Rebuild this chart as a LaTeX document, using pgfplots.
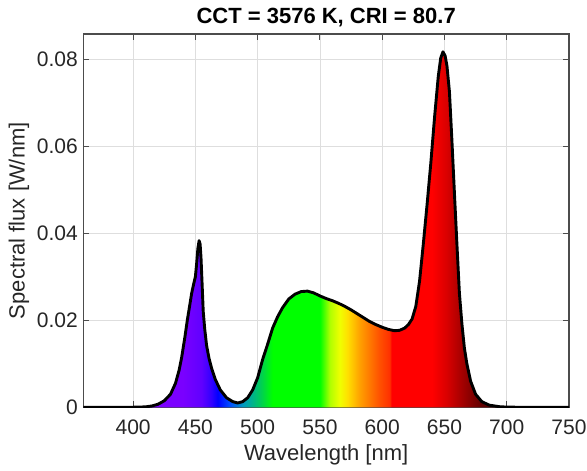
\documentclass[border=0pt]{standalone}
\usepackage{pgfplots}
\pgfplotsset{compat=1.18}
\usepackage{pgfplotstable}
\usepackage{fontspec}
\setmainfont{Liberation Sans}

\definecolor{c360}{RGB}{128,0,255}
\definecolor{c440}{RGB}{122,0,255}
\definecolor{c455}{RGB}{96,0,255}
\definecolor{c463}{RGB}{48,0,255}
\definecolor{c468}{RGB}{0,0,255}
\definecolor{c478}{RGB}{0,80,255}
\definecolor{c488}{RGB}{0,152,192}
\definecolor{c495}{RGB}{0,176,144}
\definecolor{c503}{RGB}{0,208,80}
\definecolor{c512}{RGB}{0,255,0}
\definecolor{c550}{RGB}{0,255,0}
\definecolor{c558}{RGB}{176,255,0}
\definecolor{c566}{RGB}{240,255,0}
\definecolor{c572}{RGB}{255,224,0}
\definecolor{c582}{RGB}{255,160,0}
\definecolor{c598}{RGB}{255,80,0}
\definecolor{c606}{RGB}{255,48,0}
\definecolor{c607}{RGB}{255,0,0}
\definecolor{c640}{RGB}{255,0,0}
\definecolor{c652}{RGB}{216,0,0}
\definecolor{c665}{RGB}{160,0,0}
\definecolor{c680}{RGB}{96,0,0}
\definecolor{c700}{RGB}{48,0,0}
\definecolor{c750}{RGB}{0,0,0}

\pgfdeclarehorizontalshading{spectrum}{100bp}{color(0bp)=(c360); color(25bp)=(c360);
 color(35.256bp)=(c440); color(37.179bp)=(c455); color(38.205bp)=(c463); color(38.846bp)=(c468);
 color(40.128bp)=(c478); color(41.410bp)=(c488); color(42.308bp)=(c495); color(43.333bp)=(c503);
 color(44.487bp)=(c512); color(49.359bp)=(c550); color(50.385bp)=(c558); color(51.410bp)=(c566);
 color(52.179bp)=(c572); color(53.462bp)=(c582); color(55.513bp)=(c598); color(56.538bp)=(c606);
 color(56.731bp)=(c607); color(60.897bp)=(c640); color(62.436bp)=(c652); color(64.103bp)=(c665);
 color(66.026bp)=(c680); color(68.590bp)=(c700); color(75bp)=(c750); color(100bp)=(c750)}

\pgfplotstableread{
wl flux
360 0
380 0
400 0.00002
410 0.0001
415 0.0003
420 0.0007
425 0.0015
430 0.0030
434 0.0055
437 0.0086
439 0.0115
441.5 0.0160
443.5 0.0200
445.5 0.0235
447 0.0262
448.5 0.0282
450 0.0300
451 0.0330
452 0.0365
453 0.0383
453.8 0.0375
454.5 0.0345
455.3 0.0290
456.3 0.0220
457.5 0.0180
459 0.0142
461 0.0112
463 0.0090
466 0.0064
470 0.0040
475 0.0022
480 0.0013
484 0.0010
488 0.0013
492 0.0022
496 0.0040
500 0.0068
504 0.0110
508 0.0145
512 0.0182
516 0.0208
520 0.0229
525 0.0249
530 0.0260
535 0.0266
540 0.0267
545 0.0263
550 0.0256
555 0.0250
560 0.0245
565 0.0239
570 0.0232
575 0.0224
580 0.0215
585 0.0206
590 0.0197
595 0.0190
600 0.0184
605 0.0179
610 0.0176
614 0.0177
618 0.0182
621 0.0190
624 0.0203
627 0.0232
630 0.0290
633 0.0375
636 0.0465
639 0.0560
642 0.0665
645 0.0760
647 0.0803
648.8 0.0817
650.5 0.0808
652 0.0785
654 0.0725
656 0.0612
658 0.0492
660 0.0375
662 0.0262
664 0.0192
666 0.0136
668 0.0100
671 0.0060
675 0.0030
680 0.0013
686 0.0005
695 0.0001
710 0
750 0
}\spec

\begin{document}
\begin{tikzpicture}
\begin{axis}[
  width=485.7pt, height=373.3pt, scale only axis,
  xmin=360, xmax=750, ymin=0, ymax=0.0858,
  xtick={400,450,...,750},
  ytick={0,0.02,0.04,0.06,0.08},
  scaled y ticks=false,
  yticklabel style={/pgf/number format/fixed, /pgf/number format/precision=2, xshift=-2pt},
  xticklabel style={yshift=-9pt},
  /pgf/number format/assume math mode=true,
  tick label style={font=\fontsize{21}{25}\selectfont, text=black!85},
  label style={font=\fontsize{22}{26}\selectfont, text=black!85},
  title style={font=\bfseries\fontsize{22}{26}\selectfont, yshift=-2pt},
  title={CCT = 3576 K, CRI = 80.7},
  xlabel={Wavelength [nm]},
  ylabel={Spectral flux [W/nm]},
  xlabel style={at={(axis description cs:0.5,-0.1286)}, anchor=center},
  ylabel style={at={(axis description cs:-0.1325,0.5)}, anchor=center},
  grid=major,
  grid style={black!13, line width=0.7pt},
  axis line style={draw=black!70, line width=1.1pt},
  tick style={draw=black!70, line width=1.1pt},
  major tick length=6pt,
  tick align=inside,
  xtick pos=both, ytick pos=both,
]
\addplot[draw=none, shading=spectrum] table[x=wl, y=flux] {\spec} \closedcycle;
\addplot[black, line width=2.9pt, line join=round] table[x=wl, y=flux] {\spec};
\end{axis}
\pgfresetboundingbox
\path[use as bounding box] ([xshift=-83.3pt,yshift=-62.7pt]current axis.south west) rectangle ([xshift=18pt,yshift=34pt]current axis.north east);
\end{tikzpicture}
\end{document}
